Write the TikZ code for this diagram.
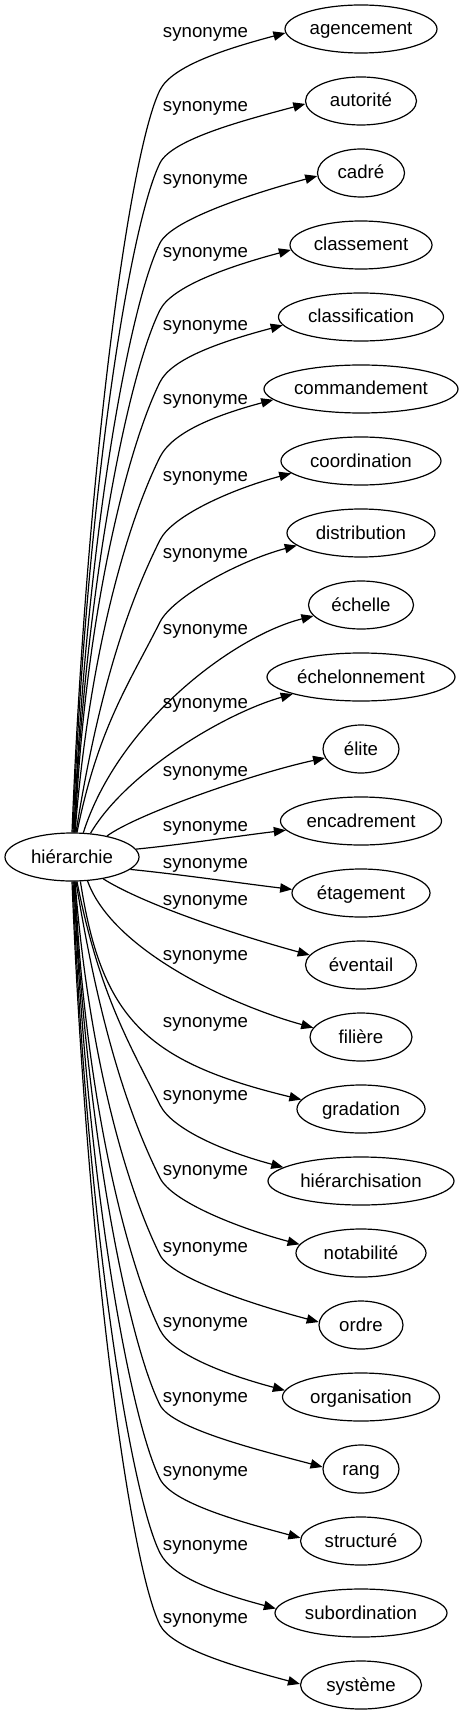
\documentclass[tikz,border=0pt]{standalone}
\usepackage{fontspec}
\setmainfont{Liberation Sans}
\usetikzlibrary{arrows.meta,shapes.geometric}
\newcommand\synup[6]{\draw[syn] ([xshift=#1]h.north) .. controls +(#5,-#6) and +(-30,60) .. (160,#4) .. controls +(12,-24) and +(-60,16) .. (#2.#3);}
\newcommand\syndown[6]{\draw[syn] ([xshift=#1]h.south) .. controls +(#5,#6) and +(-30,-60) .. (160,#4) .. controls +(12,24) and +(-60,-16) .. (#2.#3);}
\begin{document}
\begin{tikzpicture}[x=0.75pt,y=-0.75pt,
  every node/.style={font=\fontsize{14}{16}\selectfont},
  word/.style={draw,ellipse,line width=0.9pt,inner sep=0pt,minimum height=36pt,text height=11.8pt,text depth=2.8pt},
  lbl/.style={anchor=base,inner sep=0pt},
  syn/.style={line width=0.9pt,-{Triangle[length=9pt,width=7pt]}}]
\useasboundingbox (0,0) rectangle (463,1715);
\node[word,minimum width=100.5pt] (h) at (72,857) {hiérarchie};
\node[word,minimum width=114pt] (n1) at (361,29) {agencement};
\node[word,minimum width=83.25pt] (n2) at (361,101) {autorité};
\node[word,minimum width=65.25pt] (n3) at (361,173) {cadré};
\node[word,minimum width=106.5pt] (n4) at (361,245) {classement};
\node[word,minimum width=123.75pt] (n5) at (361,317) {classification};
\node[word,minimum width=145.5pt] (n6) at (361,389) {commandement};
\node[word,minimum width=120pt] (n7) at (361,461) {coordination};
\node[word,minimum width=111pt] (n8) at (361,533) {distribution};
\node[word,minimum width=78.75pt] (n9) at (361,605) {échelle};
\node[word,minimum width=141pt] (n10) at (361,677) {échelonnement};
\node[word,minimum width=57pt] (n11) at (361,749) {élite};
\node[word,minimum width=120.75pt] (n12) at (361,821) {encadrement};
\node[word,minimum width=103.5pt] (n13) at (361,893) {étagement};
\node[word,minimum width=83.25pt] (n14) at (361,965) {éventail};
\node[word,minimum width=76.5pt] (n15) at (361,1037) {filière};
\node[word,minimum width=96pt] (n16) at (361,1109) {gradation};
\node[word,minimum width=139.5pt] (n17) at (361,1181) {hiérarchisation};
\node[word,minimum width=97.5pt] (n18) at (361,1253) {notabilité};
\node[word,minimum width=63pt] (n19) at (361,1325) {ordre};
\node[word,minimum width=117.75pt] (n20) at (361,1397) {organisation};
\node[word,minimum width=57pt] (n21) at (361,1469) {rang};
\node[word,minimum width=90.75pt] (n22) at (361,1541) {structuré};
\node[word,minimum width=129pt] (n23) at (361,1613) {subordination};
\node[word,minimum width=90.75pt] (n24) at (361,1685) {système};
\foreach \i/\y in {1/33,2/107,3/180,4/253,5/326,6/400,7/476,8/553,9/629,10/703,11/771,12/826,13/863,14/900,15/955,16/1022,17/1095,18/1170,19/1247,20/1322,21/1397,22/1471,23/1545,24/1618}
  \node[lbl] (l\i) at (205.5,\y+5) {synonyme};
\synup{0pt}{n1}{183}{90}{15}{371}
\synup{0.75pt}{n2}{183}{163}{13}{335}
\synup{1.5pt}{n3}{184}{243}{12}{295}
\synup{1.5pt}{n4}{184}{310}{13}{262}
\synup{2.25pt}{n5}{186}{382}{10}{225}
\synup{2.25pt}{n6}{187}{457}{15}{188}
\synup{3pt}{n7}{190}{540}{23}{146}
\synup{3.75pt}{n8}{191}{622}{21}{105}
\draw[syn] (h.65) .. controls +(35,-110) and +(-80,20) .. (n9.193);
\draw[syn] (h.52) .. controls +(35,-60) and +(-70,20) .. (n10.194);
\draw[syn] (h.31) .. controls +(30,-22) and +(-70,15) .. (n11.194);
\draw[syn] (h.7) .. controls +(50,-5) and +(-50,6) .. (n12.187);
\draw[syn] (h.-12) .. controls +(50,5) and +(-50,-6) .. (n13.177);
\draw[syn] (h.-35) .. controls +(40,25) and +(-80,-22) .. (n14.169);
\draw[syn] (h.-57) .. controls +(25,70) and +(-80,-22) .. (n15.169);
\draw[syn] (h.-71) .. controls +(21,136) and +(-157,-38) .. (n16.171);
\syndown{3.75pt}{n17}{170}{1105}{22}{112}
\syndown{3pt}{n18}{172}{1178}{24}{148}
\syndown{2.25pt}{n19}{176}{1255}{15}{187}
\syndown{2.25pt}{n20}{175}{1330}{10}{225}
\syndown{1.5pt}{n21}{177}{1405}{13}{262}
\syndown{1.5pt}{n22}{177}{1479}{12}{299}
\syndown{0.75pt}{n23}{177}{1553}{13}{336}
\syndown{0pt}{n24}{179}{1625}{15}{372}
\end{tikzpicture}
\end{document}
